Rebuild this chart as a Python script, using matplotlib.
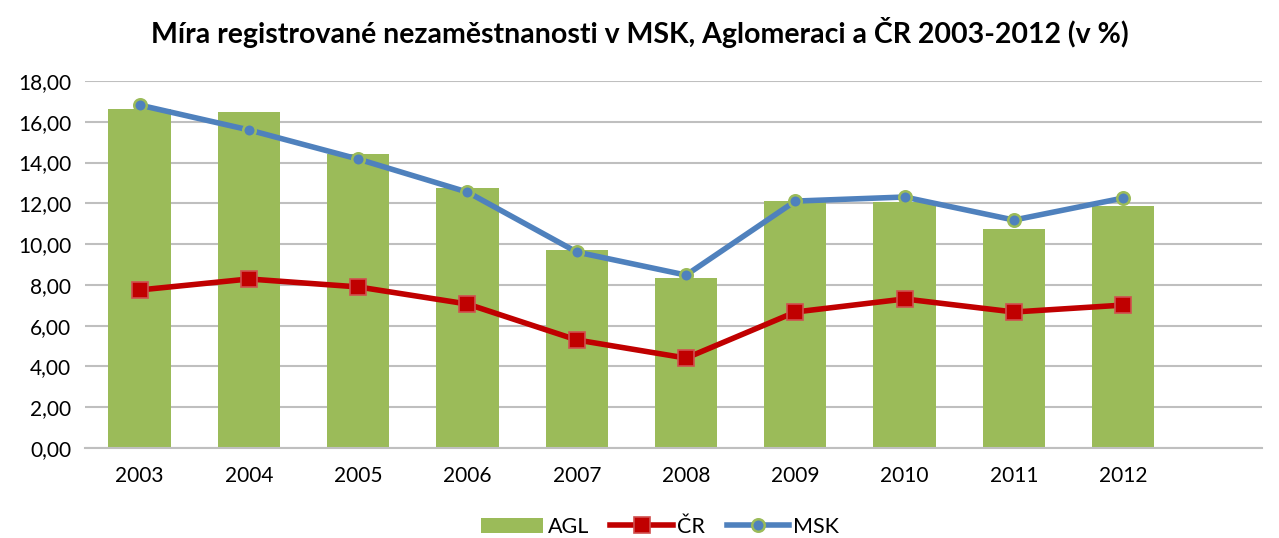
import matplotlib
matplotlib.use("Agg")
import matplotlib.pyplot as plt
from matplotlib.ticker import FuncFormatter

years = ["2003", "2004", "2005", "2006", "2007", "2008", "2009", "2010", "2011", "2012"]
agl = [16.62, 16.47, 14.41, 12.75, 9.71, 8.33, 12.10, 12.05, 10.74, 11.87]
msk = [16.82, 15.60, 14.17, 12.55, 9.61, 8.48, 12.11, 12.31, 11.18, 12.26]
cr = [7.75, 8.29, 7.90, 7.06, 5.30, 4.41, 6.67, 7.31, 6.67, 7.01]

plt.rcParams['font.family'] = ['Lato', 'DejaVu Sans']

fig = plt.figure(figsize=(12.79, 5.38), dpi=100)
ax = fig.add_axes([85 / 1279, 90 / 538, 1177 / 1279, 367 / 538])

x = list(range(len(years)))
b = ax.bar(x, agl, width=0.57, color="#9BBB59", label="AGL", zorder=2)
l1, = ax.plot(x, cr, color="#C00000", lw=4, marker="s", markersize=11,
              markerfacecolor="#C00000", markeredgecolor="#D0504F", markeredgewidth=1.2,
              label="ČR", zorder=3)
l2, = ax.plot(x, msk, color="#4F81BD", lw=4, marker="o", markersize=9,
              markerfacecolor="#4F81BD", markeredgecolor="#9BBB59", markeredgewidth=1.8,
              label="MSK", zorder=4)

ax.set_ylim(0, 18)
ax.set_yticks(range(0, 19, 2))
ax.yaxis.set_major_formatter(FuncFormatter(lambda v, p: f"{v:.2f}".replace(".", ",")))
ax.set_xlim(-0.5, 10.27)
ax.set_xticks(x)
ax.set_xticklabels(years)
ax.grid(axis="y", color="#BFBFBF", lw=1.5, zorder=0)
ax.set_axisbelow(True)
for s in ["top", "right", "left"]:
    ax.spines[s].set_visible(False)
ax.spines["bottom"].set_color("#BFBFBF")
ax.spines["bottom"].set_linewidth(1.5)
ax.tick_params(length=0, labelsize=15, colors="#000000")
ax.tick_params(axis="x", pad=13)
ax.tick_params(axis="y", pad=10)

fig.text(0.5, 1 - 33 / 538, "Míra registrované nezaměstnanosti v MSK, Aglomeraci a ČR 2003-2012 (v %)",
         ha="center", va="center", fontsize=20.5, fontweight="bold")

fig.legend(handles=[b, l1, l2], loc="center", bbox_to_anchor=(660 / 1279, 1 - 527 / 538), ncol=3,
           frameon=False, fontsize=15.5, handlelength=2.9, columnspacing=1.0, handletextpad=0.2)

fig.savefig("out.png", dpi=100)
